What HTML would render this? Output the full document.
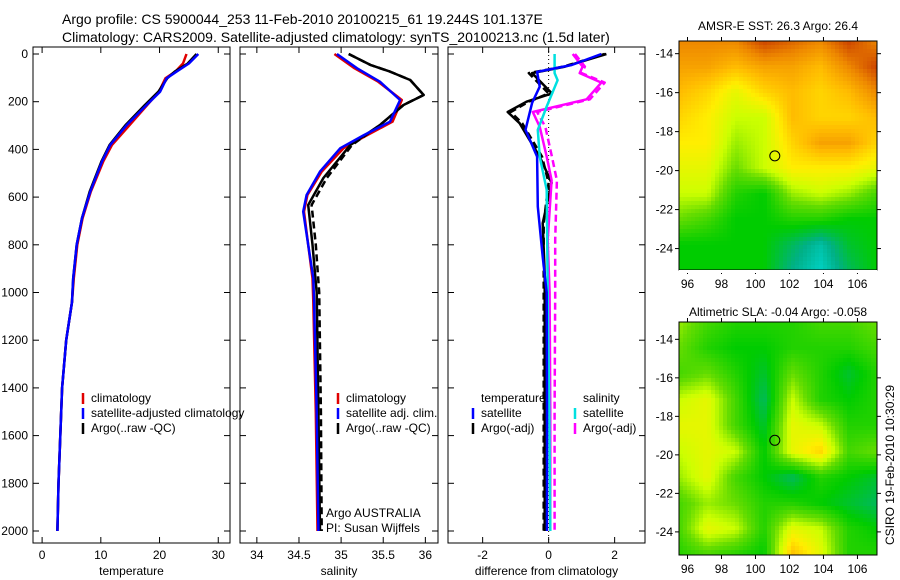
<!DOCTYPE html>
<html><head><meta charset="utf-8">
<style>
body{margin:0;background:#fff;}
svg{display:block;font-family:"Liberation Sans",sans-serif;}
</style></head>
<body>
<svg id="chart" width="900" height="580" viewBox="0 0 900 580" xmlns="http://www.w3.org/2000/svg">
<text x="62" y="24" font-size="14">Argo profile: CS 5900044_253 11-Feb-2010 20100215_61 19.244S 101.137E</text>
<text x="62" y="42" font-size="14">Climatology: CARS2009. Satellite-adjusted climatology: synTS_20100213.nc (1.5d later)</text>
<g id="g"></g>
<text transform="translate(894,465) rotate(-90)" text-anchor="middle" font-size="12">CSIRO 19-Feb-2010 10:30:29</text>
</svg>
<script>
// ---------- data ----------
const depthTicks=[0,200,400,600,800,1000,1200,1400,1600,1800,2000];
const tDepth=[0,40,74,102,158,214,298,381,451,577,688,800,940,1040,1200,1400,1600,1800,2000];
const tClim=[24.6,24.0,22.7,21.0,19.9,17.9,14.9,11.9,10.4,8.3,6.9,6.0,5.4,5.1,4.1,3.4,3.1,2.8,2.6];
const tSat=[26.6,25.0,22.9,21.2,20.1,17.8,14.4,11.6,10.2,8.2,6.8,5.9,5.3,5.1,4.1,3.4,3.1,2.8,2.6];
const tArgo=[26.3,24.8,22.6,21.3,19.8,17.5,14.2,11.5,10.1,8.1,6.8,5.9,5.3,5.1,4.1,3.4,3.1,2.8,2.6];
const sDepth=[0,60,116,193,284,340,395,493,591,661,800,940,1040,1500,2000];
const sClim=[34.92,35.16,35.44,35.72,35.61,35.31,35.03,34.77,34.6,34.56,34.61,34.66,34.67,34.7,34.72];
const sSat=[34.95,35.19,35.46,35.70,35.58,35.27,34.99,34.75,34.59,34.55,34.61,34.67,34.68,34.71,34.73];
const sArgoDepth=[0,46,74,109,172,214,298,381,520,633,800,1000,1500,2000];
const sArgo=[35.09,35.35,35.58,35.82,35.98,35.74,35.46,35.11,34.79,34.61,34.66,34.71,34.73,34.75];
const sArgoAdj=[35.09,35.35,35.58,35.82,35.98,35.74,35.46,35.13,34.83,34.65,34.7,34.74,34.76,34.77];
const dtDepth=[0,46,75,137,205,318,430,640,850,1000,1500,2000];
const dTsat=[1.6,0.7,-0.35,-0.27,-0.5,-0.7,-0.35,-0.33,-0.18,-0.06,-0.05,-0.05];
const daDepth=[0,53,80,165,200,243,290,360,430,540,710,920,1500,2000];
const dTargo=[1.75,0.5,-0.5,0.1,-0.67,-1.24,-0.88,-0.58,-0.27,0.09,-0.18,-0.12,-0.12,-0.12];
const dTargo2=[1.7,0.45,-0.6,0.0,-0.6,-1.15,-0.8,-0.5,-0.2,0.0,-0.15,-0.15,-0.15,-0.15];
const dsDepth=[0,80,110,220,318,430,570,1000,1500,2000];
const dSsat=[0.18,0.18,0.27,-0.06,-0.33,-0.27,-0.06,-0.03,0.02,0.05];
const dmDepth=[0,53,80,120,190,243,305,430,530,780,1000,1500,2000];
const dSargo=[0.73,1.03,0.94,1.6,1.15,-0.48,-0.27,-0.06,0.09,-0.03,0.03,0.05,0.05];
const dSargo2=[0.8,1.1,1.0,1.7,1.25,-0.35,-0.1,0.1,0.25,0.2,0.2,0.18,0.18];
const sstGrid=[
[.85,.85,.85,.95,.9,.85,.95,.85],[.8,.8,.75,.8,.8,.75,.85,.95],[.75,.7,.6,.7,.75,.7,.75,.85],
[.7,.65,.55,.55,.75,.7,.7,.75],[.65,.65,.5,.55,.7,.8,.8,.7],[.6,.6,.45,.55,.65,.65,.65,.6],
[.55,.55,.35,.3,.5,.55,.5,.4],[.45,.4,.3,.3,.35,.35,.3,.3],[.3,.3,.3,.3,.2,.1,.25,.3],[.3,.3,.3,.3,.15,.05,.2,.3]];
const slaGrid=[
[.5,.4,.35,.35,.35,.4,.4,.45],[.45,.35,.3,.3,.35,.35,.35,.4],[.4,.45,.35,.25,.45,.35,.25,.35],
[.55,.6,.4,.2,.55,.35,.3,.35],[.6,.6,.4,.25,.6,.55,.35,.35],[.55,.6,.55,.3,.6,.7,.4,.45],
[.5,.6,.4,.3,.2,.35,.3,.25],[.4,.5,.45,.35,.35,.3,.25,.2],[.4,.6,.55,.35,.6,.55,.35,.3],[.35,.4,.35,.3,.75,.6,.35,.35]];
const lonTicks=[96,98,100,102,104,106];
const latTicks=[-14,-16,-18,-20,-22,-24];
const argoLon=101.137, argoLat=-19.244;
// ---------- helpers ----------
const NS="http://www.w3.org/2000/svg";
const G=document.getElementById('g');
function mk(tag,at,parent){const e=document.createElementNS(NS,tag);for(const k in at)e.setAttribute(k,at[k]);(parent||G).appendChild(e);return e;}
const Y0=54,YS=0.2385;
const yD=d=>Y0+d*YS;
function panel(name,x0,x1,xmin,xmax,ticks,label,showY){
  const sx=v=>x0+(v-xmin)/(xmax-xmin)*(x1-x0);
  const r=mk('rect',{x:x0,y:47,width:x1-x0,height:496,fill:'none',stroke:'#000','stroke-width':1});
  
  
  ticks.forEach(t=>{
    mk('line',{x1:sx(t),x2:sx(t),y1:543,y2:537,stroke:'#000'});
    mk('line',{x1:sx(t),x2:sx(t),y1:47,y2:53,stroke:'#000'});
    const tx=mk('text',{x:sx(t),y:559,'text-anchor':'middle','font-size':12});tx.textContent=t;
    
    
  });
  depthTicks.forEach(d=>{
    mk('line',{x1:x0,x2:x0+6,y1:yD(d),y2:yD(d),stroke:'#000'});
    mk('line',{x1:x1,x2:x1-6,y1:yD(d),y2:yD(d),stroke:'#000'});
    if(showY){const tx=mk('text',{x:x0-5,y:yD(d)+4,'text-anchor':'end','font-size':12});tx.textContent=d;
      
      }
  });
  const xl=mk('text',{x:(x0+x1)/2,y:575,'text-anchor':'middle','font-size':12});xl.textContent=label;
  
  
  return sx;
}
function line(sx,depths,vals,color,name,dash){
  const p=mk('polyline',{points:depths.map((d,i)=>sx(vals[i]).toFixed(1)+','+yD(d).toFixed(1)).join(' '),fill:'none',stroke:color,'stroke-width':2.5,'stroke-dasharray':dash||'none','stroke-linejoin':'round'});
  
  
}
function leg(x,y,color,txt,name){
  mk('line',{x1:x,x2:x,y1:y-9,y2:y+2,stroke:color,'stroke-width':2.5});
  const t=mk('text',{x:x+8,y:y,'font-size':12});t.textContent=txt;
  
  
}
// ---------- panel 1 ----------
const sx1=panel('temperature-panel',33,230,-1.55,32,[0,10,20,30],'temperature',true);
line(sx1,tDepth,tClim,'#e00000','temperature-climatology-line');
line(sx1,tDepth,tArgo,'#000','temperature-argo-line');
line(sx1,tDepth,tSat,'#0000ff','temperature-satellite-line');
leg(83,402,'#e00000','climatology','legend-climatology');
leg(83,417,'#0000ff','satellite-adjusted climatology','legend-satellite');
leg(83,432,'#000','Argo(..raw -QC)','legend-argo');
// ---------- panel 2 ----------
const sx2=panel('salinity-panel',240,438,33.8,36.15,[34,34.5,35,35.5,36],'salinity',false);
line(sx2,sDepth,sClim,'#e00000','salinity-climatology-line');
line(sx2,sArgoDepth,sArgoAdj,'#000','salinity-argo-line','7,4');
line(sx2,sArgoDepth,sArgo,'#000','salinity-argo-raw-line');
line(sx2,sDepth,sSat,'#0000ff','salinity-satellite-line');
leg(338,402,'#e00000','climatology','legend-sal-climatology');
leg(338,417,'#0000ff','satellite adj. clim.','legend-sal-satellite');
leg(338,432,'#000','Argo(..raw -QC)','legend-sal-argo');
const a1=mk('text',{x:326,y:517,'font-size':12});a1.textContent='Argo AUSTRALIA';


const a2=mk('text',{x:326,y:532,'font-size':12});a2.textContent='PI: Susan Wijffels';


// ---------- panel 3 ----------
const sx3=panel('difference-panel',448,645,-3.05,2.92,[-2,0,2],'difference from climatology',false);
mk('line',{x1:sx3(0),x2:sx3(0),y1:47,y2:543,stroke:'#000','stroke-dasharray':'1,3'});
line(sx3,daDepth,dTargo2,'#000','temp-argo-adj-diff-line','7,4');
line(sx3,daDepth,dTargo,'#000','temp-argo-diff-line');
line(sx3,dmDepth,dSargo2,'#ff00ff','sal-argo-adj-diff-line','7,4');
line(sx3,dmDepth,dSargo,'#ff00ff','sal-argo-diff-line');
line(sx3,dsDepth,dSsat,'#00e0e0','sal-satellite-diff-line');
line(sx3,dtDepth,dTsat,'#0000ff','temp-satellite-diff-line');
const lt=mk('text',{x:481,y:402,'font-size':12});lt.textContent='temperature';


leg(473,417,'#0000ff','satellite','legend-temp-satellite');
leg(473,432,'#000','Argo(-adj)','legend-temp-argo');
const ls=mk('text',{x:583,y:402,'font-size':12});ls.textContent='salinity';


leg(575,417,'#00e0e0','satellite','legend-sal-sat');
leg(575,432,'#ff00ff','Argo(-adj)','legend-sal-argo-adj');
// ---------- maps ----------
const stops=[[0,[0,224,224]],[0.15,[0,176,136]],[0.3,[0,204,0]],[0.45,[102,221,0]],[0.55,[204,255,0]],[0.65,[255,238,0]],[0.75,[255,187,0]],[0.85,[238,136,0]],[1,[187,34,0]]];
function cmap(v){v=Math.max(0,Math.min(1,v));for(let i=1;i<stops.length;i++){if(v<=stops[i][0]){const a=stops[i-1],b=stops[i],t=(v-a[0])/(b[0]-a[0]);return 'rgb('+a[1].map((c,k)=>Math.round(c+(b[1][k]-c)*t)).join(',')+')';}}return 'rgb(187,34,0)';}
function interp(grid,u,v){const R=grid.length-1,C=grid[0].length-1;const fy=v*R,fx=u*C;const i=Math.min(R-1,Math.floor(fy)),j=Math.min(C-1,Math.floor(fx));const ty=fy-i,tx=fx-j;
  return grid[i][j]*(1-tx)*(1-ty)+grid[i][j+1]*tx*(1-ty)+grid[i+1][j]*(1-tx)*ty+grid[i+1][j+1]*tx*ty;}
function map(name,x0,y0,w,h,grid,lonMin,lonMax,latTop,latBot,title,titleY){
  const sx=l=>x0+(l-lonMin)/(lonMax-lonMin)*w, sy=l=>y0+(latTop-l)/(latTop-latBot)*h;
  const g=mk('g',{});
  const cs=4;
  for(let y=0;y<h;y+=cs)for(let x=0;x<w;x+=cs){
    mk('rect',{x:x0+x,y:y0+y,width:Math.min(cs,w-x)+0.3,height:Math.min(cs,h-y)+0.3,fill:cmap(interp(grid,(x+cs/2)/w,(y+cs/2)/h))},g);
  }
  mk('rect',{x:x0,y:y0,width:w,height:h,fill:'none',stroke:'#000'},g);
  lonTicks.forEach(l=>{mk('line',{x1:sx(l),x2:sx(l),y1:y0,y2:y0-4,stroke:'#000'},g);mk('line',{x1:sx(l),x2:sx(l),y1:y0+h,y2:y0+h+4,stroke:'#000'},g);
    const t=mk('text',{x:sx(l),y:y0+h+18,'text-anchor':'middle','font-size':12},g);t.textContent=l;
    
    });
  latTicks.forEach(l=>{mk('line',{x1:x0,x2:x0-4,y1:sy(l),y2:sy(l),stroke:'#000'},g);mk('line',{x1:x0+w,x2:x0+w+4,y1:sy(l),y2:sy(l),stroke:'#000'},g);
    const t=mk('text',{x:x0-6,y:sy(l)+4,'text-anchor':'end','font-size':12},g);t.textContent=l;
    
    });
  const c=mk('circle',{cx:sx(argoLon),cy:sy(argoLat),r:5,fill:'none',stroke:'#000'},g);
  
  
  const t=mk('text',{x:x0+w/2,y:titleY,'text-anchor':'middle','font-size':12},g);t.textContent=title;
  
  
}
map('sst-map',679,41,198,229,sstGrid,95.5,107.15,-13.35,-25.1,'AMSR-E SST: 26.3 Argo: 26.4',30);
mk('rect',{x:679,y:270,width:198,height:3,fill:'#fff'});
map('sla-map',679,322,198,233,slaGrid,95.5,107.15,-13.1,-25.2,'Altimetric SLA: -0.04 Argo: -0.058',316);
</script>
</body></html>
